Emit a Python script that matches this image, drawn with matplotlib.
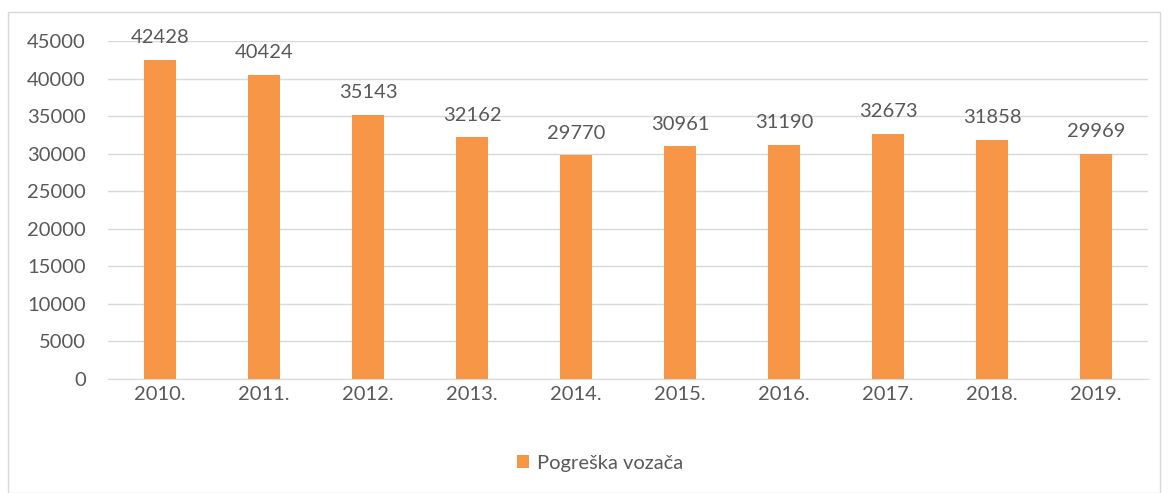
import numpy as np
import matplotlib.pyplot as plt
from matplotlib.patches import Rectangle

years = ["2010.", "2011.", "2012.", "2013.", "2014.", "2015.", "2016.", "2017.", "2018.", "2019."]
values = [42428, 40424, 35143, 32162, 29770, 30961, 31190, 32673, 31858, 29969]
series_name = "Pogreška vozača"

plt.rcParams['font.family'] = ['Lato', 'DejaVu Sans']
txt_col = '#595959'
bar_col = '#F79646'
fs = 14.5

fig = plt.figure(figsize=(11.69, 4.93), dpi=100)
# outer chart frame
fig.patches.append(Rectangle((8/1169, 0), 1152/1169, 1-12/493, transform=fig.transFigure,
                             fill=False, edgecolor='#d9d9d9', linewidth=1))

ax = fig.add_axes([108/1169, 1-379/493, 1040/1169, (379-41)/493])
x = np.arange(len(years))
bars = ax.bar(x, values, width=0.31, color=bar_col, label=series_name, zorder=3)
ax.bar_label(bars, labels=[str(v) for v in values], padding=10, fontsize=fs, color=txt_col)

ax.set_xlim(-0.5, len(years)-0.5)
ax.set_ylim(0, 45000)
ax.set_yticks(np.arange(0, 45001, 5000))
ax.set_xticks(x)
ax.set_xticklabels(years)
ax.grid(axis='y', color='#d9d9d9', linewidth=1, zorder=0)
for s in ['top', 'right', 'left']:
    ax.spines[s].set_visible(False)
ax.spines['bottom'].set_color('#d9d9d9')
ax.tick_params(length=0, labelsize=fs, colors=txt_col)
ax.tick_params(axis='y', pad=16)
ax.tick_params(axis='x', pad=5)

fig.legend(loc='center', bbox_to_anchor=(600/1169, 1-463/493), frameon=False,
           fontsize=fs, labelcolor=txt_col, handlelength=0.6, handleheight=0.6,
           handletextpad=0.4)

fig.savefig("out.png", dpi=100)
